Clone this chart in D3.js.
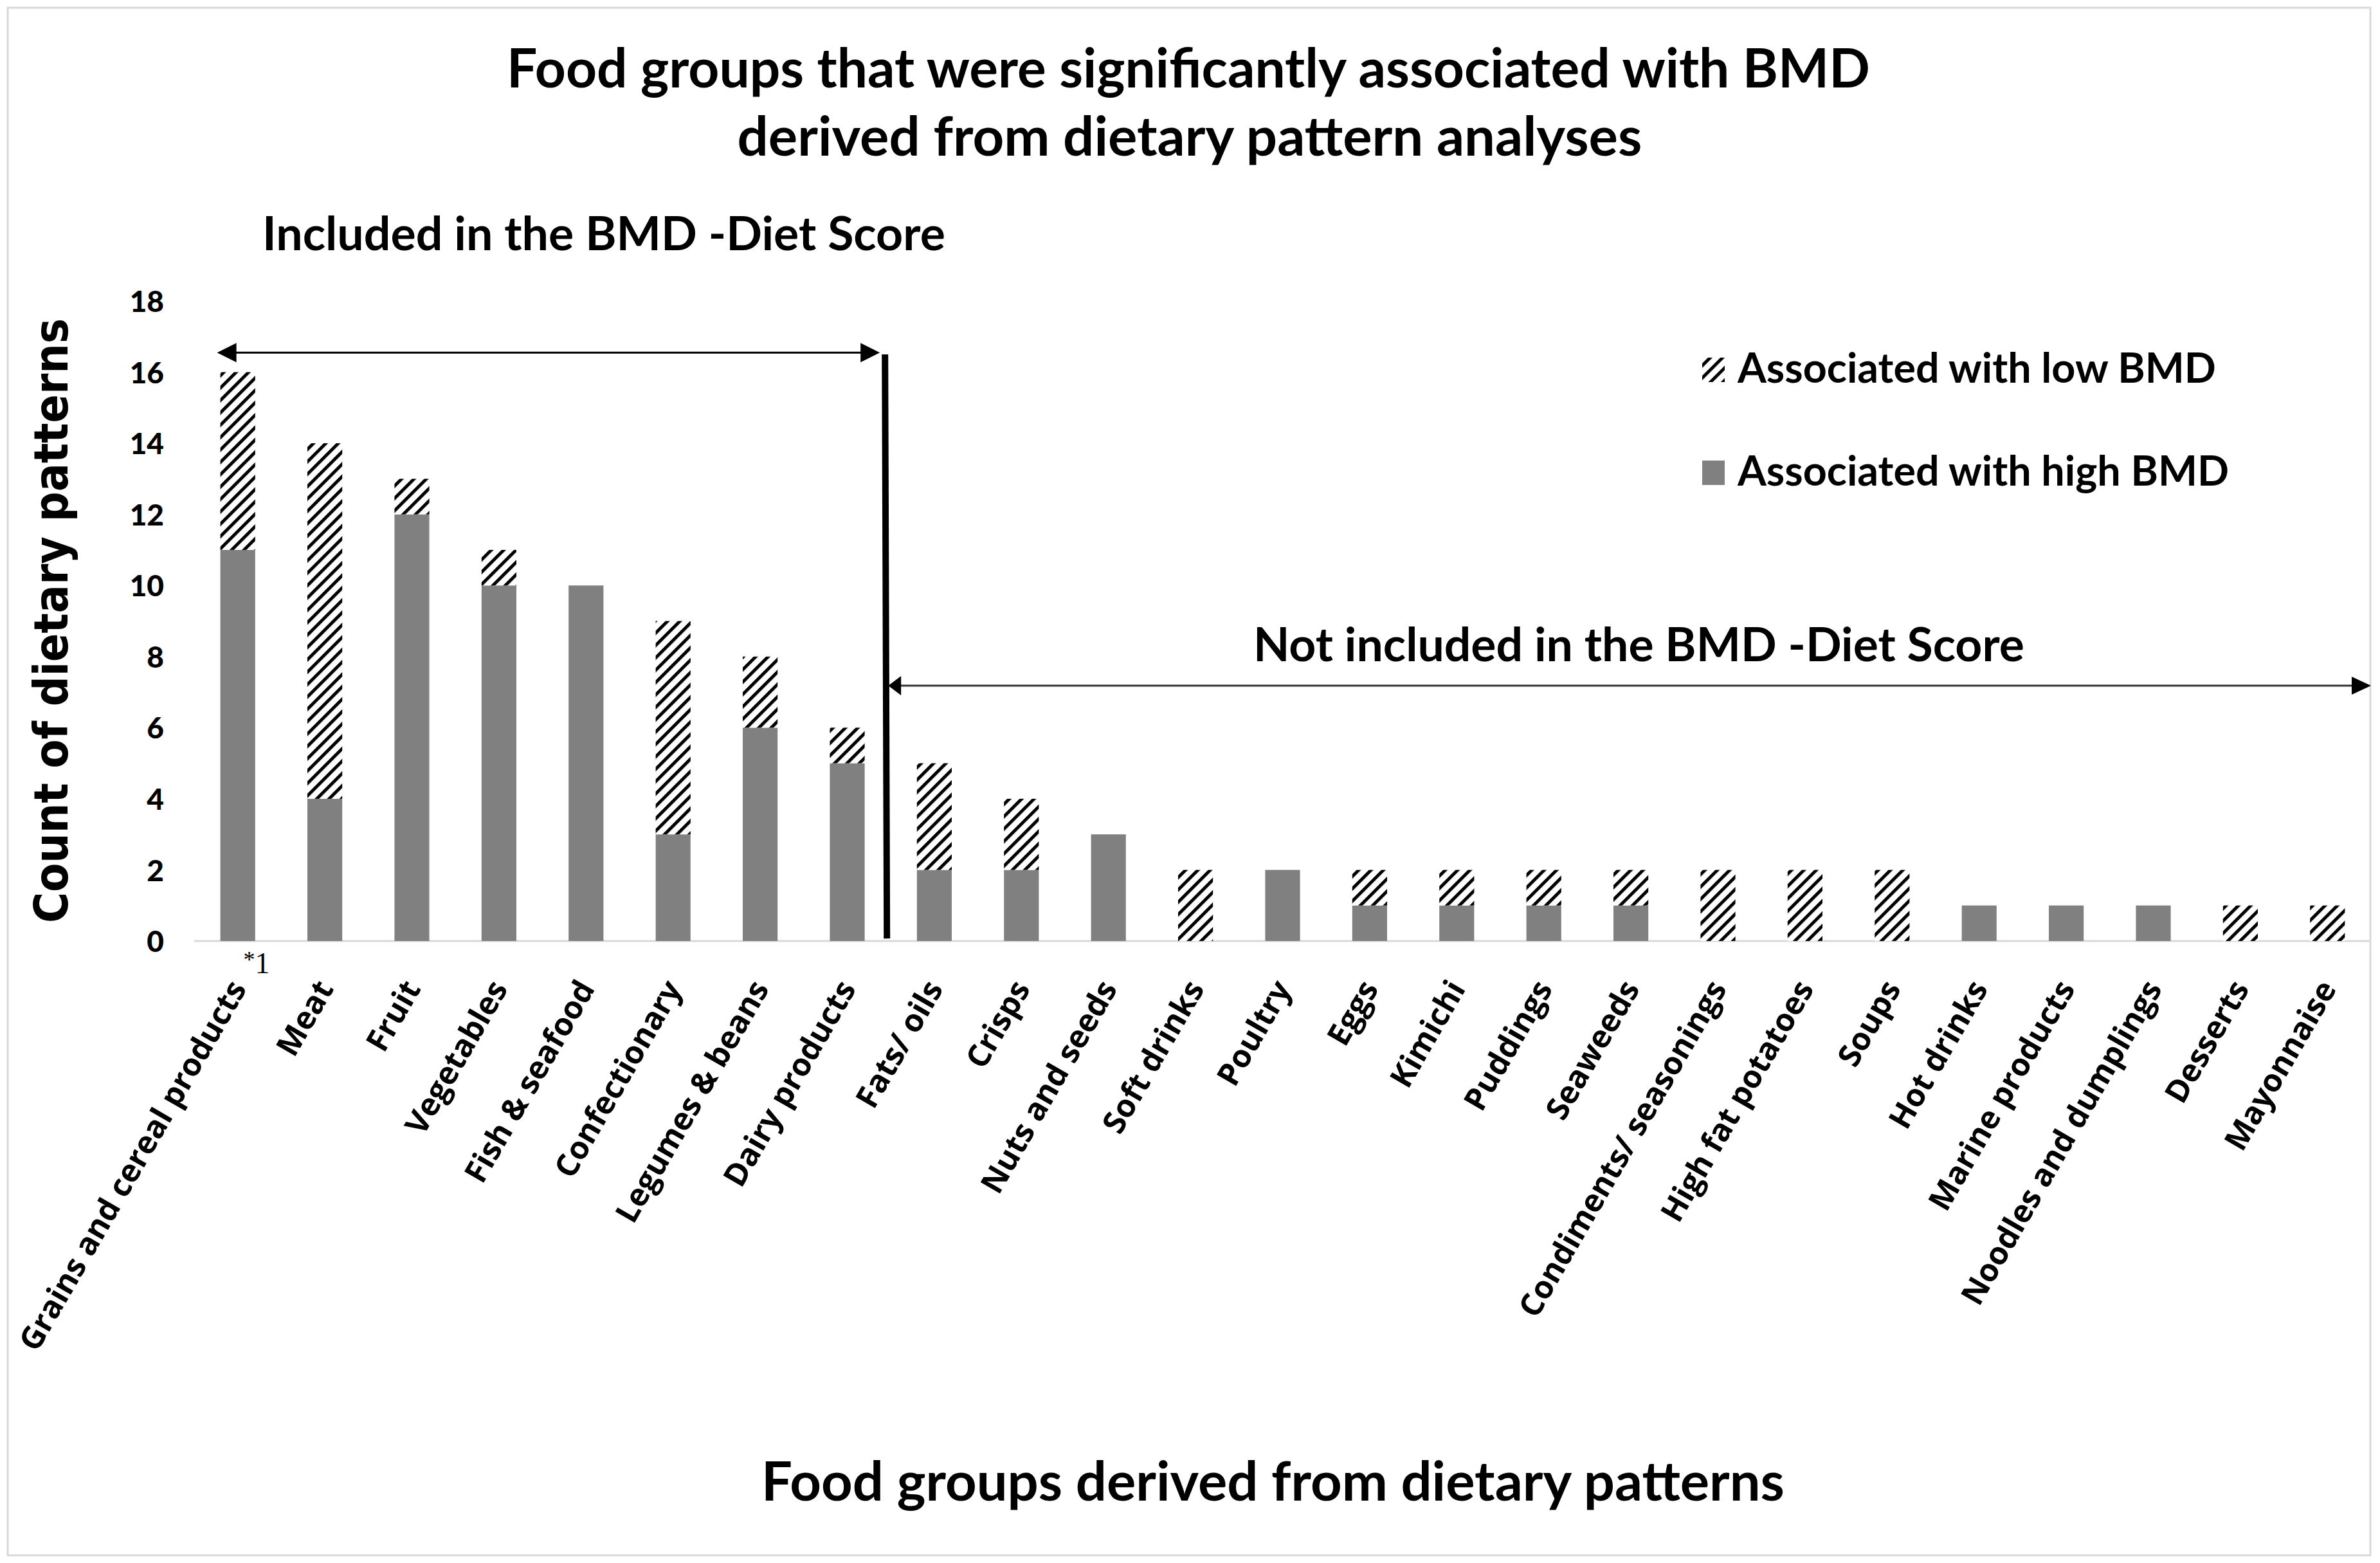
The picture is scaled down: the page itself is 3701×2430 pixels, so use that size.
<!DOCTYPE html>
<html>
<head>
<meta charset="utf-8">
<script src="https://cdn.jsdelivr.net/npm/d3@7"></script>
<style>
  html, body { margin: 0; padding: 0; background: #fff; }
  svg { display: block; }
</style>
</head>
<body>
<script>
// ---------------- data ----------------
const categories = [
  "Grains and cereal products", "Meat", "Fruit", "Vegetables", "Fish & seafood",
  "Confectionary", "Legumes & beans", "Dairy products", "Fats/ oils", "Crisps",
  "Nuts and seeds", "Soft drinks", "Poultry", "Eggs", "Kimichi", "Puddings",
  "Seaweeds", "Condiments/ seasonings", "High fat potatoes", "Soups", "Hot drinks",
  "Marine products", "Noodles and dumplings", "Desserts", "Mayonnaise"
];
const highBMD = [11, 4, 12, 10, 10, 3, 6, 5, 2, 2, 3, 0, 2, 1, 1, 1, 1, 0, 0, 0, 1, 1, 1, 0, 0];
const lowBMD  = [5, 10, 1, 1, 0, 6, 2, 1, 3, 2, 0, 2, 0, 1, 1, 1, 1, 2, 2, 2, 0, 0, 0, 1, 1];
const seriesKeys = ["high", "low"];
const legendLabels = ["Associated with low BMD", "Associated with high BMD"];
const yTicks = [0, 2, 4, 6, 8, 10, 12, 14, 16, 18];
const includedCount = 8;
const titleLines = ["Food groups that were significantly associated with BMD",
                    "derived from dietary pattern analyses"];
const includedLabel = "Included in the BMD -Diet Score";
const notIncludedLabel = "Not included in the BMD -Diet Score";
const yTitle = "Count of dietary patterns";
const xTitle = "Food groups derived from dietary patterns";
const footnoteMark = ["*", "1"];

// ---------------- setup ----------------
const W = 3701, H = 2430;
const svg = d3.select("body").append("svg").attr("width", W).attr("height", H);
const CAL = "Lato, 'Open Sans', sans-serif";
const VERC = "'DejaVu Sans Condensed', 'DejaVu Sans', Verdana, sans-serif";
const LAB = "'Open Sans', 'DejaVu Sans', sans-serif";

function fit(t, w) {
  const l = t.node().getComputedTextLength();
  const fs = parseFloat(t.attr("font-size"));
  t.attr("font-size", fs * w / l);
  return fs * w / l;
}

const defs = svg.append("defs");
const pat = defs.append("pattern").attr("id", "hatch")
  .attr("patternUnits", "userSpaceOnUse").attr("width", 13.6).attr("height", 13.6)
  .attr("patternTransform", "rotate(45)");
pat.append("rect").attr("width", 13.6).attr("height", 13.6).attr("fill", "#fff");
pat.append("rect").attr("x", 0).attr("width", 5).attr("height", 13.6).attr("fill", "#000");

// outer border
svg.append("rect").attr("x", 12).attr("y", 12).attr("width", 3674).attr("height", 2406)
  .attr("fill", "#fff").attr("stroke", "#d9d9d9").attr("stroke-width", 3);

// scales
const x = d3.scaleBand().domain(categories).range([302, 3687]).paddingInner(0.6).paddingOuter(0.3);
const y = d3.scaleLinear().domain([0, 18]).range([1463, 468]);

const data = categories.map((c, i) => ({ cat: c, high: highBMD[i], low: lowBMD[i] }));
const stacked = d3.stack().keys(seriesKeys)(data);
const fills = { high: "#808080", low: "url(#hatch)" };

// baseline axis
svg.append("line").attr("x1", x.range()[0]).attr("x2", x.range()[1])
  .attr("y1", y(0)).attr("y2", y(0)).attr("stroke", "#d9d9d9").attr("stroke-width", 3);

// bars
svg.append("g").selectAll("g").data(stacked).join("g")
  .attr("fill", d => fills[d.key])
  .selectAll("rect").data(d => d.filter(p => p[1] > p[0])).join("rect")
  .attr("x", d => x(d.data.cat))
  .attr("width", x.bandwidth())
  .attr("y", d => y(d[1]))
  .attr("height", d => y(d[0]) - y(d[1]));

// y axis labels
const yAxis = d3.axisLeft(y).tickValues(yTicks).tickSize(0).tickPadding(0);
const gy = svg.append("g").attr("transform", "translate(255,0)").call(yAxis);
gy.select(".domain").remove();
gy.selectAll("text").attr("font-family", CAL).attr("font-weight", "900")
  .attr("font-size", 46).attr("fill", "#000").attr("dy", "0.36em");

// x axis labels (rotated)
const xAxis = d3.axisBottom(x).tickSize(0).tickPadding(0);
const gx = svg.append("g").attr("transform", `translate(0,${y(0)})`).call(xAxis);
gx.select(".domain").remove();
const labels = gx.selectAll("text")
  .attr("font-family", LAB).attr("font-weight", "bold").attr("font-style", "normal")
  .attr("font-size", 44).attr("fill", "#000")
  .attr("text-anchor", "end").attr("dy", 0).attr("y", 0)
  .attr("transform", "translate(15,74) rotate(-60)");
const labFs = fit(d3.select(labels.nodes()[0]), 655);
labels.attr("font-size", labFs);

// footnote mark next to first label
const fn = svg.append("text").attr("x", x(categories[0]) + 36).attr("y", y(0) + 50)
  .attr("font-family", "'Liberation Serif', serif").attr("font-size", 46).attr("fill", "#000");
fn.append("tspan").text(footnoteMark[0]).attr("font-size", 36).attr("dy", -9);
fn.append("tspan").text(footnoteMark[1]).attr("dy", 9);

// titles
const t1 = svg.append("text").attr("x", 1848).attr("y", 136).attr("text-anchor", "middle")
  .attr("font-family", CAL).attr("font-weight", "bold").attr("font-size", 88).text(titleLines[0]);
fit(t1, 2120);
const t2 = svg.append("text").attr("x", 1850).attr("y", 242).attr("text-anchor", "middle")
  .attr("font-family", CAL).attr("font-weight", "bold").attr("font-size", 88).text(titleLines[1]);
fit(t2, 1407);

// y title
const yt = svg.append("text").attr("transform", "translate(105,965) rotate(-90)")
  .attr("text-anchor", "middle").attr("font-family", VERC).attr("font-weight", "bold")
  .attr("font-size", 72).text(yTitle);
fit(yt, 940);

// x title
const xt = svg.append("text").attr("x", (x.range()[0] + x.range()[1]) / 2 - 15).attr("y", 2333)
  .attr("text-anchor", "middle").attr("font-family", CAL).attr("font-weight", "bold")
  .attr("font-size", 88).text(xTitle);
fit(xt, 1591);

// legend
const legY = [575, 735];
const legFills = ["url(#hatch)", "#808080"];
const lg = svg.append("g");
let legFs = null;
legendLabels.forEach((lab, i) => {
  lg.append("rect").attr("x", 2647).attr("y", legY[i] - 19).attr("width", 35).attr("height", 38)
    .attr("fill", legFills[i]);
  const tt = lg.append("text").attr("x", 2702).attr("y", legY[i] + 20)
    .attr("font-family", CAL).attr("font-weight", "bold").attr("font-size", 64).text(lab);
  if (i === 0) legFs = fit(tt, 744); else tt.attr("font-size", legFs);
});

// annotations: divider & arrows
const step = x.step();
const divX = x(categories[includedCount]) - (step - x.bandwidth()) / 2 - 9;
svg.append("line").attr("x1", divX).attr("x2", divX + 3)
  .attr("y1", y(16.5)).attr("y2", y(0.07))
  .attr("stroke", "#000").attr("stroke-width", 10);

function arrowHead(tipX, tipY, dir, len, half) {
  svg.append("path")
    .attr("d", `M${tipX},${tipY} L${tipX - dir * len},${tipY - half} L${tipX - dir * len},${tipY + half} Z`)
    .attr("fill", "#000");
}
// included arrow
const a1y = y(16.55);
const a1x0 = x(categories[0]) - 5, a1x1 = divX - 8;
svg.append("line").attr("x1", a1x0 + 20).attr("x2", a1x1 - 20).attr("y1", a1y).attr("y2", a1y)
  .attr("stroke", "#000").attr("stroke-width", 3);
arrowHead(a1x0, a1y, -1, 30, 15);
arrowHead(a1x1, a1y, 1, 30, 15);
// not included arrow
const a2y = y(7.18);
const a2x0 = divX + 5, a2x1 = x.range()[1];
svg.append("line").attr("x1", a2x0 + 15).attr("x2", a2x1 - 20).attr("y1", a2y).attr("y2", a2y)
  .attr("stroke", "#333").attr("stroke-width", 3);
arrowHead(a2x0, a2y, -1, 20, 15);
arrowHead(a2x1, a2y, 1, 30, 14);

// section labels
const s1 = svg.append("text").attr("x", 408).attr("y", 389)
  .attr("font-family", CAL).attr("font-weight", "bold").attr("font-size", 70).text(includedLabel);
fit(s1, 1062);
const s2 = svg.append("text").attr("x", 1949).attr("y", 1028)
  .attr("font-family", CAL).attr("font-weight", "bold").attr("font-size", 70).text(notIncludedLabel);
fit(s2, 1199);
</script>
</body>
</html>
